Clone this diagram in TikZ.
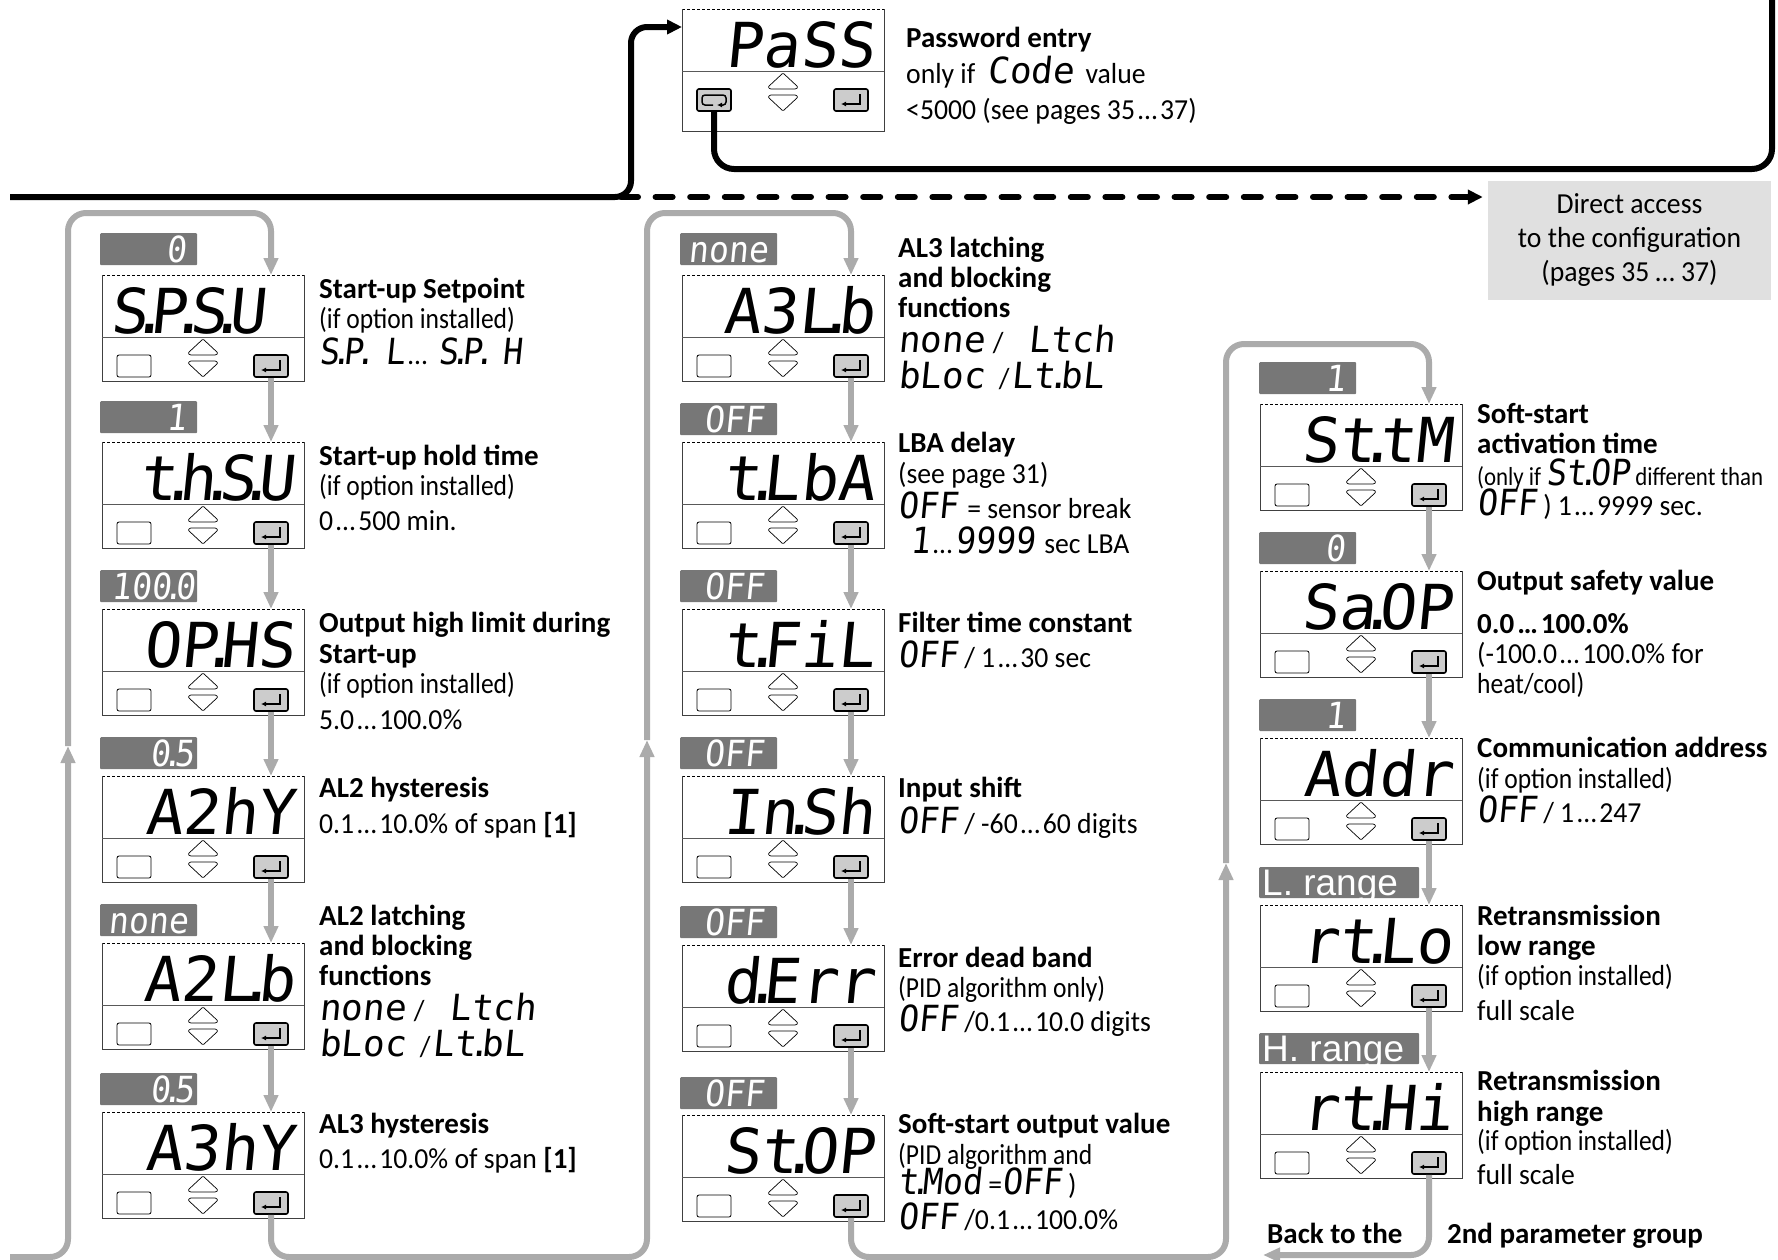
\documentclass[tikz,border=0pt]{standalone}
\usepackage{xcolor}
\usepackage{fontspec}
\usepackage{tikz}
\usetikzlibrary{arrows.meta, positioning, calc}

\setmainfont[FakeStretch=0.955,BoldFeatures={FakeStretch=1.0}]{Carlito}
\newfontfamily\tightfamily[FakeStretch=0.88]{Carlito}
\newfontfamily\segfamily[FakeSlant=0.1,FakeStretch=0.92]{DejaVu Sans Mono}
\newfontfamily\segwidefamily[FakeSlant=0.1]{DejaVu Sans Mono}
\newfontfamily\dispfamily[FakeSlant=0.1]{DejaVu Sans Mono}
\newfontfamily\rangefamily{Liberation Sans}
\normallineskiplimit=-50pt

\definecolor{flowgray}{HTML}{ABABAB}
\definecolor{valgray}{HTML}{777777}
\definecolor{keygray}{HTML}{CCCCCC}
\definecolor{notegray}{HTML}{E0E0E0}

\newcommand{\dispdot}{\kern-.285em.\kern-.285em}
\newcommand{\segdot}{\kern-.22em.\kern-.22em}
\newcommand{\ellip}{\kern3pt…\kern3pt}
\newcommand{\segtxt}[1]{{\fontsize{36}{33}\segfamily #1}}
\newcommand{\segwide}[1]{{\fontsize{36}{33}\segwidefamily #1}}
\newcommand{\tighttxt}[1]{{\tightfamily #1}}

\tikzset{
  flow/.style={line width=6pt, draw=flowgray, -{Triangle[length=17pt,width=14pt]}},
  blackflow/.style={line width=6pt, draw=black},
  panelbody/.style={anchor=north west, inner sep=0pt, minimum width=202pt},
  softkey/.style={draw=black, line width=.8pt, rounded corners=2pt, fill=white, minimum width=34pt, minimum height=22pt, inner sep=0pt},
  enterkey/.style={draw=black, line width=1.6pt, rounded corners=2pt, fill=keygray, minimum width=34pt, minimum height=22pt, inner sep=0pt},
  arrowkey/.style={draw=black, line width=.7pt, fill=white, rounded corners=1pt},
  disp/.style={anchor=base east, inner sep=0pt, font=\fontsize{62}{62}\dispfamily},
  vallabel/.style={anchor=north west, fill=valgray, rounded corners=1pt, text=white, text width=93pt, align=right,
    inner xsep=2pt, inner ysep=3pt, text height=26pt, text depth=0pt, font=\fontsize{36}{36}\segfamily},
  rangelabel/.style={anchor=north west, fill=valgray, rounded corners=1pt, minimum width=160pt, minimum height=31pt, inner sep=0pt},
  rangetext/.style={anchor=base west, inner sep=0pt, text=white, font=\fontsize{37}{37}\rangefamily},
  desctitle/.style={anchor=base west, inner sep=0pt, font=\fontsize{29}{33}\selectfont\bfseries},
  descline/.style={anchor=base west, inner sep=0pt, font=\fontsize{29}{33}\selectfont},
  notebox/.style={fill=notegray, minimum width=283pt, minimum height=119pt, inner sep=0pt, align=center, font=\fontsize{29}{34}\selectfont}
}

% one controller face: name, left, top, height, display text
\newcommand{\dpanel}[5]{
  \begin{scope}[shift={(#2,#3)}]
    \node[panelbody, minimum height=#4pt] (#1-box) at (0,0) {};
    \draw[line width=.9pt, dash pattern=on 3pt off 2pt] (#1-box.north west) -- (#1-box.north east);
    \draw[line width=.9pt, draw=black!75] (#1-box.north west) -- (#1-box.south west) -- (#1-box.south east) -- (#1-box.north east);
    \draw[line width=.9pt, draw=black!65] (0,62) -- (202,62);
    \node[disp] (#1-disp) at (193,58) {#5};
    \node[softkey] (#1-soft) at (32,91) {};
    \node[enterkey] (#1-enter) at (169,91) {};
    \draw[line width=1.5pt, -{Latex[length=5pt,width=5pt]}] (178,85) -- (178,95) -- (159,95);
    \draw[arrowkey] (86,78) -- (101,64) -- (116,78) -- (114,80) -- (88,80) -- cycle;
    \draw[arrowkey] (86,88) -- (101,102) -- (116,88) -- (114,86) -- (88,86) -- cycle;
  \end{scope}
}

\begin{document}
\begin{tikzpicture}[x=1pt,y=-1pt]
  \useasboundingbox (0,0) rectangle (1778,1259);

  % controller faces
  \foreach \id/\x/\y/\txt in {
    spsu/102/275/{S\dispdot P\dispdot S\dispdot U\kern29pt},
    thsu/102/442/{t\dispdot h\dispdot S\dispdot U},
    ophs/102/609/{OP\dispdot HS},
    a2hy/102/776/{A2hY},
    a2lb/102/943/{A2L\dispdot b},
    a3hy/102/1112/{A3hY},
    a3lb/682/275/{A3L\dispdot b},
    tlba/682/442/{t\dispdot LbA},
    tfil/682/609/{t\dispdot FiL},
    insh/682/776/{In\dispdot Sh},
    derr/682/945/{d\dispdot Err},
    stop/682/1115/{St\dispdot OP},
    sttm/1260/404/{St\dispdot tM},
    saop/1260/571/{Sa\dispdot OP},
    addr/1260/738/{Addr},
    rtlo/1260/905/{rt\dispdot Lo},
    rthi/1260/1072/{rt\dispdot Hi}}
    {\dpanel{\id}{\x}{\y}{106}{\txt}}
  \dpanel{pass}{682}{9}{122}{PaSS}
  \node[enterkey] (pass-loop) at (pass-soft) {};
  \draw[line width=1.5pt, rounded corners=3pt, -{Latex[length=5pt,width=5pt]}]
    ($(pass-loop)+(-1,5)$) -- ($(pass-loop)+(-12,5)$) -- ($(pass-loop)+(-12,-5)$) -- ($(pass-loop)+(12,-5)$) -- ($(pass-loop)+(12,5)$) -- ($(pass-loop)+(3,5)$);

  % values above the faces
  \foreach \id/\x/\y/\txt in {
    spsu/100/233/{0\kern9pt},
    thsu/100/401/{1\kern9pt},
    ophs/100/570/{100\segdot 0},
    a2hy/100/737/{0\segdot 5\kern1pt},
    a2lb/100/904/{none\kern7pt},
    a3hy/100/1073/{0\segdot 5\kern1pt},
    a3lb/680/233/{none\kern7pt},
    tlba/680/403/{OFF\kern11pt},
    tfil/680/570/{OFF\kern11pt},
    insh/680/737/{OFF\kern11pt},
    derr/680/906/{OFF\kern11pt},
    stop/680/1077/{OFF\kern11pt},
    sttm/1259/362/{1\kern9pt},
    saop/1259/532/{0\kern9pt},
    addr/1259/699/{1\kern9pt}}
    {\node[vallabel] (\id-val) at (\x,\y) {\txt};}
  \node[rangelabel] (rtlo-val) at (1259,867) {};
  \node[rangelabel] (rthi-val) at (1259,1033) {};
  \begin{scope}
    \clip (rtlo-val.north west) rectangle (rtlo-val.south east);
    \node[rangetext] (rtlo-rng) at (1262,895) {L. range};
  \end{scope}
  \begin{scope}
    \clip (rthi-val.north west) rectangle (rthi-val.south east);
    \node[rangetext] (rthi-rng) at (1262,1061) {H. range};
  \end{scope}

  % bold lines of the descriptions
  \foreach \id/\x/\y/\txt in {
    pass-a/906/47/{Password entry},
    spsu-a/319/298/{Start-up Setpoint},
    thsu-a/319/465/{Start-up hold time},
    ophs-a/319/632/{Output high limit during},
    ophs-b/319/663/{Start-up},
    a2hy-a/319/797/{AL2 hysteresis},
    a2lb-a/319/925/{AL2 latching},
    a2lb-b/319/955/{and blocking},
    a2lb-c/319/985/{functions},
    a3hy-a/319/1133/{AL3 hysteresis},
    a3lb-a/898/257/{AL3 latching},
    a3lb-b/898/287/{and blocking},
    a3lb-c/898/317/{functions},
    tlba-a/898/452/{LBA delay},
    tfil-a/898/632/{Filter time constant},
    insh-a/898/797/{Input shift},
    derr-a/898/967/{Error dead band},
    stop-a/898/1133/{Soft-start output value},
    sttm-a/1477/423/{Soft-start},
    sttm-b/1477/453/{activation time},
    saop-a/1477/590/{Output safety value},
    saop-b/1477/633/{0.0\ellip 100.0\%},
    addr-a/1477/757/{Communication address},
    rtlo-a/1477/925/{Retransmission},
    rtlo-b/1477/955/{low range},
    rthi-a/1477/1090/{Retransmission},
    rthi-b/1477/1121/{high range},
    backto/1267/1243/{Back to the},
    group/1447/1243/{2nd parameter group}}
    {\node[desctitle] (\id) at (\x,\y) {\txt};}

  % plain lines of the descriptions
  \foreach \id/\x/\y/\txt in {
    pass-b/906/83/{only if \kern6pt\segwide{Code}\kern5pt\ value},
    pass-c/906/119/{<5000 (see pages 35\ellip 37)},
    spsu-b/319/328/{\tighttxt{(if option installed)}},
    spsu-c/319/364/{\segtxt{S\segdot P\segdot\kern18pt L}\ellip\kern8pt\segtxt{S\segdot P\segdot\kern16pt H}},
    thsu-b/319/495/{\tighttxt{(if option installed)}},
    thsu-c/319/530/{0\ellip 500 min.},
    ophs-c/319/693/{\tighttxt{(if option installed)}},
    ophs-d/319/729/{5.0\ellip 100.0\%},
    a2hy-b/319/833/{0.1\ellip 10.0\% of span \textbf{[1]}},
    a2lb-d/319/1020/{\segwide{none}\kern8pt/\kern25pt\segwide{Ltch}},
    a2lb-e/319/1056/{\segwide{bLoc}\kern14pt/\kern2pt\segwide{Lt\segdot bL}},
    a3hy-b/319/1168/{0.1\ellip 10.0\% of span \textbf{[1]}},
    a3lb-d/898/352/{\segwide{none}\kern8pt/\kern25pt\segwide{Ltch}},
    a3lb-e/898/388/{\segwide{bLoc}\kern14pt/\kern2pt\segwide{Lt\segdot bL}},
    tlba-b/898/483/{(see page 31)},
    tlba-c/898/518/{\segtxt{OFF}\kern3pt\ = sensor break},
    tlba-d/910/553/{\segtxt{1}\ellip\segtxt{9999}\kern3pt\ sec LBA},
    tfil-b/898/667/{\segtxt{OFF} / 1\ellip 30 sec},
    insh-b/898/833/{\segtxt{OFF} / -60\ellip 60 digits},
    derr-b/898/997/{\tighttxt{(PID algorithm only)}},
    derr-c/898/1031/{\segtxt{OFF} /0.1\ellip 10.0 digits},
    stop-b/898/1164/{\tighttxt{(PID algorithm and}},
    stop-c/898/1194/{\segtxt{t\segdot Mod} =\segtxt{OFF} )},
    stop-d/898/1229/{\segtxt{OFF} /0.1\ellip 100.0\%},
    sttm-c/1477/485/{\fontsize{26}{33}\tightfamily (only if \segtxt{St\segdot OP} different than},
    sttm-d/1477/515/{\segtxt{OFF} ) 1\ellip 9999 sec.},
    saop-c/1477/663/{(-100.0\ellip 100.0\% for},
    saop-d/1477/693/{\tighttxt{heat/cool)}},
    addr-b/1477/788/{\tighttxt{(if option installed)}},
    addr-c/1477/822/{\segtxt{OFF} / 1\ellip 247},
    rtlo-c/1477/985/{\tighttxt{(if option installed)}},
    rtlo-d/1477/1020/{full scale},
    rthi-c/1477/1150/{\tighttxt{(if option installed)}},
    rthi-d/1477/1184/{full scale}}
    {\node[descline] (\id) at (\x,\y) {\txt};}

  \node[notebox] (direct) at (1629.5,240.5) {Direct access\\to the configuration\\(pages 35 … 37)};

  % steps inside each group
  \foreach \a/\b in {spsu/thsu, thsu/ophs, ophs/a2hy, a2hy/a2lb, a2lb/a3hy,
                     a3lb/tlba, tlba/tfil, tfil/insh, insh/derr, derr/stop,
                     sttm/saop, saop/addr, addr/rtlo, rtlo/rthi}
    {\draw[flow] (\a-enter.south) -- (\a-enter.south |- \b-box.north);}

  % loops between the groups
  \coordinate (backin) at (10,1257);
  \coordinate (upa) at (68,746);
  \coordinate (upb) at (647,740);
  \coordinate (upc) at (1226,863);
  \coordinate (backout) at (1263,1255);
  \draw[flow, rounded corners=18pt] (backin) -- (68,1257) -- (upa);
  \draw[flow, rounded corners=18pt] (upa) -- (68,213) -- (spsu-enter.south |- 0,213) -- (spsu-enter.south |- spsu-box.north);
  \draw[flow, rounded corners=18pt] (a3hy-enter.south) -- (a3hy-enter.south |- 0,1257) -- (647,1257) -- (upb);
  \draw[flow, rounded corners=18pt] (upb) -- (647,213) -- (a3lb-enter.south |- 0,213) -- (a3lb-enter.south |- a3lb-box.north);
  \draw[flow, rounded corners=18pt] (stop-enter.south) -- (stop-enter.south |- 0,1257) -- (1226,1257) -- (upc);
  \draw[flow, rounded corners=18pt] (upc) -- (1226,344) -- (sttm-enter.south |- 0,344) -- (sttm-enter.south |- sttm-box.north);
  \draw[flow, rounded corners=18pt] (rthi-enter.south) -- (rthi-enter.south |- backout) -- (backout);

  % black access paths
  \coordinate (blackin) at (10,197);
  \coordinate (blackend) at (1772,0);
  \draw[blackflow, dash pattern=on 17pt off 17.6pt, line cap=round, -{Triangle[length=15pt,width=14pt]}] (621,197) -- ([xshift=-5pt]direct.north west |- 0,197);
  \draw[blackflow, rounded corners=16pt, -{Triangle[length=15pt,width=14pt]}] (blackin) -- (631,197) -- (631,27) -- (pass-box.north west |- 0,27);
  \draw[blackflow, rounded corners=20pt] (pass-loop.south) -- (pass-loop.south |- 0,169) -- (1772,169) -- (blackend);
\end{tikzpicture}
\end{document}
